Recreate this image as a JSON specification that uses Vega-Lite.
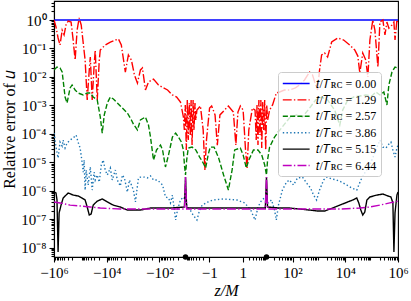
{
"$schema": "https://vega.github.io/schema/vega-lite/v6.json",
"width": 344, "height": 256,
"autosize": {"type": "none"},
"padding": {"left": 54, "top": 1, "right": 13, "bottom": 44},
"background": "white",
"config": {
 "view": {"stroke": "black", "strokeWidth": 1.1},
 "axis": {"domainColor": "black", "tickColor": "black", "labelColor": "black", "titleColor": "black", "labelFont": "Liberation Serif", "titleFont": "Liberation Serif", "labelFontSize": 15, "titleFontSize": 16, "titleFontWeight": "normal", "grid": false, "tickSize": 5, "tickWidth": 1.1, "domainWidth": 1.1}
},
"datasets": {
 "curves": [
  {"t":"0.00","z":-1e6,"err":1},{"t":"0.00","z":1e6,"err":1},
  {"t":"1.29","z":-1e6,"err":1.0},{"t":"1.29","z":-8.4e5,"err":0.57},{"t":"1.29","z":-7.0e5,"err":0.233},{"t":"1.29","z":-5.9e5,"err":0.132},{"t":"1.29","z":-4.9e5,"err":0.44},{"t":"1.29","z":-4.15e5,"err":0.30},{"t":"1.29","z":-3.5e5,"err":0.67},{"t":"1.29","z":-2.9e5,"err":0.92},{"t":"1.29","z":-2.25e5,"err":0.85},{"t":"1.29","z":-1.88e5,"err":0.198},{"t":"1.29","z":-1.58e5,"err":0.039},{"t":"1.29","z":-1.33e5,"err":0.44},{"t":"1.29","z":-1.11e5,"err":1.18},{"t":"1.29","z":-9.3e4,"err":0.67},{"t":"1.29","z":-7.8e4,"err":0.155},{"t":"1.29","z":-6.6e4,"err":0.039},{"t":"1.29","z":-5.5e4,"err":0.00154},{"t":"1.29","z":-4.6e4,"err":0.0175},{"t":"1.29","z":-4.2e4,"err":0.050},{"t":"1.29","z":-3.56e4,"err":0.00154},{"t":"1.29","z":-3.0e4,"err":0.026},{"t":"1.29","z":-2.73e4,"err":0.088},{"t":"1.29","z":-2.29e4,"err":0.00154},{"t":"1.29","z":-1.92e4,"err":0.039},{"t":"1.29","z":-1.76e4,"err":0.088},{"t":"1.29","z":-1.14e4,"err":0.132},{"t":"1.29","z":-7.3e3,"err":0.168},{"t":"1.29","z":-4.7e3,"err":0.198},{"t":"1.29","z":-3.6e3,"err":0.215},{"t":"1.29","z":-2.8e3,"err":0.132},{"t":"1.29","z":-1.97e3,"err":0.0148},{"t":"1.29","z":-1.51e3,"err":0.059},{"t":"1.29","z":-1.16e3,"err":0.039},{"t":"1.29","z":-890,"err":0.0116},{"t":"1.29","z":-686,"err":0.0061},{"t":"1.29","z":-527,"err":0.0175},{"t":"1.29","z":-442,"err":0.0205},{"t":"1.29","z":-340,"err":0.00346},{"t":"1.29","z":-261,"err":0.0066},{"t":"1.29","z":-168,"err":0.0084},{"t":"1.29","z":-109,"err":0.0052},{"t":"1.29","z":-70,"err":0.0041},{"t":"1.29","z":-49,"err":0.00346},{"t":"1.29","z":-32,"err":0.00231},{"t":"1.29","z":-22,"err":0.00196},{"t":"1.29","z":-15.7,"err":0.00131},{"t":"1.29","z":-12.1,"err":3.9e-4},{"t":"1.29","z":-11.1,"err":1.36e-4},{"t":"1.29","z":-10.2,"err":1.03e-3},{"t":"1.29","z":-9.3,"err":2.7e-5},{"t":"1.29","z":-8.5,"err":1.54e-3},{"t":"1.29","z":-7.8,"err":6.0e-5},{"t":"1.29","z":-7.1,"err":1.21e-3},{"t":"1.29","z":-6.5,"err":9.0e-5},{"t":"1.29","z":-6.0,"err":1.54e-3},{"t":"1.29","z":-5.5,"err":4.0e-5},{"t":"1.29","z":-5.0,"err":1.54e-3},{"t":"1.29","z":-4.6,"err":1.36e-4},{"t":"1.29","z":-4.2,"err":1.21e-3},{"t":"1.29","z":-3.9,"err":3.05e-4},{"t":"1.29","z":-3.5,"err":6.8e-4},{"t":"1.29","z":-2.5,"err":9.5e-4},{"t":"1.29","z":-1.9,"err":1.36e-4},{"t":"1.29","z":-1.6,"err":5.3e-6},{"t":"1.29","z":-1.35,"err":6.0e-5},{"t":"1.29","z":-0.96,"err":8.0e-4},{"t":"1.29","z":-0.75,"err":9.5e-4},{"t":"1.29","z":-0.48,"err":4.6e-4},{"t":"1.29","z":-0.34,"err":4.0e-5},{"t":"1.29","z":-0.21,"err":4.6e-4},{"t":"1.29","z":0.07,"err":9.5e-4},{"t":"1.29","z":0.27,"err":5.8e-4},{"t":"1.29","z":0.41,"err":4.0e-5},{"t":"1.29","z":0.55,"err":5.8e-4},{"t":"1.29","z":0.75,"err":9.5e-4},{"t":"1.29","z":1.04,"err":6.8e-4},{"t":"1.29","z":1.35,"err":2.7e-5},{"t":"1.29","z":1.6,"err":6.3e-6},{"t":"1.29","z":1.9,"err":1.36e-4},{"t":"1.29","z":2.7,"err":8.0e-4},{"t":"1.29","z":3.5,"err":6.8e-4},{"t":"1.29","z":3.9,"err":6.0e-5},{"t":"1.29","z":4.2,"err":1.03e-3},{"t":"1.29","z":4.6,"err":4.0e-5},{"t":"1.29","z":5.0,"err":1.54e-3},{"t":"1.29","z":5.5,"err":9.0e-5},{"t":"1.29","z":6.0,"err":1.54e-3},{"t":"1.29","z":6.5,"err":3.15e-5},{"t":"1.29","z":7.1,"err":1.31e-3},{"t":"1.29","z":7.8,"err":1.36e-4},{"t":"1.29","z":8.5,"err":1.54e-3},{"t":"1.29","z":9.3,"err":2.7e-5},{"t":"1.29","z":10.2,"err":1.03e-3},{"t":"1.29","z":11.1,"err":3.05e-4},{"t":"1.29","z":13.2,"err":6.8e-4},{"t":"1.29","z":17.2,"err":1.03e-3},{"t":"1.29","z":24,"err":0.00271},{"t":"1.29","z":32,"err":0.00294},{"t":"1.29","z":49,"err":0.00346},{"t":"1.29","z":76,"err":0.00346},{"t":"1.29","z":129,"err":0.0041},{"t":"1.29","z":184,"err":0.0052},{"t":"1.29","z":285,"err":0.0078},{"t":"1.29","z":442,"err":0.0148},{"t":"1.29","z":575,"err":0.0116},{"t":"1.29","z":750,"err":0.0052},{"t":"1.29","z":890,"err":0.00346},{"t":"1.29","z":1060,"err":0.0175},{"t":"1.29","z":1270,"err":0.059},{"t":"1.29","z":1650,"err":0.069},{"t":"1.29","z":2140,"err":0.050},{"t":"1.29","z":3050,"err":0.168},{"t":"1.29","z":5200,"err":0.233},{"t":"1.29","z":8700,"err":0.198},{"t":"1.29","z":1.48e4,"err":0.132},{"t":"1.29","z":2.29e4,"err":0.088},{"t":"1.29","z":3.0e4,"err":0.054},{"t":"1.29","z":3.56e4,"err":0.0137},{"t":"1.29","z":4.6e4,"err":0.069},{"t":"1.29","z":6.0e4,"err":0.039},{"t":"1.29","z":7.2e4,"err":0.0099},{"t":"1.29","z":8.6e4,"err":0.198},{"t":"1.29","z":1.11e5,"err":1.0},{"t":"1.29","z":1.33e5,"err":0.44},{"t":"1.29","z":1.73e5,"err":0.0222},{"t":"1.29","z":2.06e5,"err":0.85},{"t":"1.29","z":2.67e5,"err":1.0},{"t":"1.29","z":3.2e5,"err":0.30},{"t":"1.29","z":3.8e5,"err":0.85},{"t":"1.29","z":4.5e5,"err":0.52},{"t":"1.29","z":5.9e5,"err":0.67},{"t":"1.29","z":7.0e5,"err":0.85},{"t":"1.29","z":7.7e5,"err":0.198},{"t":"1.29","z":9.1e5,"err":1.0},{"t":"1.29","z":1e6,"err":0.85},
  {"t":"2.57","z":-1e6,"err":0.0175},{"t":"2.57","z":-7.7e5,"err":0.0222},{"t":"2.57","z":-5.9e5,"err":0.0205},{"t":"2.57","z":-4.9e5,"err":0.0148},{"t":"2.57","z":-3.8e5,"err":0.00196},{"t":"2.57","z":-3.2e5,"err":0.00121},{"t":"2.57","z":-2.45e5,"err":0.0041},{"t":"2.57","z":-2.06e5,"err":0.0052},{"t":"2.57","z":-1.58e5,"err":0.00346},{"t":"2.57","z":-1.22e5,"err":0.00271},{"t":"2.57","z":-7.8e4,"err":0.00231},{"t":"2.57","z":-5.5e4,"err":0.00271},{"t":"2.57","z":-4.2e4,"err":0.00271},{"t":"2.57","z":-3.26e4,"err":0.00196},{"t":"2.57","z":-2.29e4,"err":0.00154},{"t":"2.57","z":-1.76e4,"err":3.9e-4},{"t":"2.57","z":-1.48e4,"err":1.06e-4},{"t":"2.57","z":-1.24e4,"err":4.6e-4},{"t":"2.57","z":-9.5e3,"err":1.21e-3},{"t":"2.57","z":-7.3e3,"err":0.00196},{"t":"2.57","z":-5.6e3,"err":0.00167},{"t":"2.57","z":-3.97e3,"err":1.21e-3},{"t":"2.57","z":-2.55e3,"err":8.0e-4},{"t":"2.57","z":-1.65e3,"err":5.4e-4},{"t":"2.57","z":-1.16e3,"err":3.05e-4},{"t":"2.57","z":-975,"err":2.2e-4},{"t":"2.57","z":-686,"err":1.36e-4},{"t":"2.57","z":-527,"err":3.05e-4},{"t":"2.57","z":-340,"err":3.9e-4},{"t":"2.57","z":-261,"err":2.03e-4},{"t":"2.57","z":-219,"err":7.7e-5},{"t":"2.57","z":-168,"err":1.19e-5},{"t":"2.57","z":-129,"err":2.7e-5},{"t":"2.57","z":-91,"err":4.0e-5},{"t":"2.57","z":-76,"err":2.7e-5},{"t":"2.57","z":-59,"err":6.8e-6},{"t":"2.57","z":-45,"err":1.8e-5},{"t":"2.57","z":-32,"err":7.7e-5},{"t":"2.57","z":-24,"err":1.06e-4},{"t":"2.57","z":-18.8,"err":7.7e-5},{"t":"2.57","z":-14.4,"err":5.1e-5},{"t":"2.57","z":-12.1,"err":2.7e-5},{"t":"2.57","z":-11,"err":8.0e-6},{"t":"2.57","z":-10,"err":3.55e-6},{"t":"2.57","z":-9,"err":1.19e-5},{"t":"2.57","z":-7.8,"err":3.15e-5},{"t":"2.57","z":-5.5,"err":3.4e-5},{"t":"2.57","z":-3.9,"err":2.7e-5},{"t":"2.57","z":-2.7,"err":1.52e-5},{"t":"2.57","z":-1.9,"err":9.4e-6},{"t":"2.57","z":-1.47,"err":6.3e-6},{"t":"2.57","z":-1.13,"err":1.8e-5},{"t":"2.57","z":-0.89,"err":3.4e-5},{"t":"2.57","z":-0.55,"err":3.4e-5},{"t":"2.57","z":-0.27,"err":1.41e-5},{"t":"2.57","z":-0.07,"err":3.55e-6},{"t":"2.57","z":0.07,"err":1.05e-6},{"t":"2.57","z":0.21,"err":5.3e-6},{"t":"2.57","z":0.34,"err":2.7e-5},{"t":"2.57","z":0.75,"err":3.15e-5},{"t":"2.57","z":1.04,"err":1.8e-5},{"t":"2.57","z":1.47,"err":6.3e-6},{"t":"2.57","z":1.9,"err":1.19e-5},{"t":"2.57","z":3.0,"err":2.7e-5},{"t":"2.57","z":4.6,"err":2.7e-5},{"t":"2.57","z":6.5,"err":1.8e-5},{"t":"2.57","z":8.5,"err":8.0e-6},{"t":"2.57","z":10,"err":3.55e-6},{"t":"2.57","z":11,"err":1.19e-5},{"t":"2.57","z":13.2,"err":3.4e-5},{"t":"2.57","z":20.5,"err":7.7e-5},{"t":"2.57","z":26.7,"err":1.06e-4},{"t":"2.57","z":38,"err":1.6e-4},{"t":"2.57","z":76,"err":3.6e-4},{"t":"2.57","z":141,"err":4.6e-4},{"t":"2.57","z":239,"err":3.9e-4},{"t":"2.57","z":442,"err":8.0e-4},{"t":"2.57","z":750,"err":1.54e-3},{"t":"2.57","z":1270,"err":1.96e-3},{"t":"2.57","z":2140,"err":1.54e-3},{"t":"2.57","z":3970,"err":6.8e-4},{"t":"2.57","z":6200,"err":2.03e-4},{"t":"2.57","z":8000,"err":6.8e-4},{"t":"2.57","z":1.24e4,"err":1.54e-3},{"t":"2.57","z":2.1e4,"err":1.96e-3},{"t":"2.57","z":3.56e4,"err":2.13e-3},{"t":"2.57","z":6.0e4,"err":2.31e-3},{"t":"2.57","z":1.02e5,"err":2.13e-3},{"t":"2.57","z":1.45e5,"err":2.94e-3},{"t":"2.57","z":2.06e5,"err":2.31e-3},{"t":"2.57","z":2.9e5,"err":2.94e-3},{"t":"2.57","z":3.8e5,"err":1.03e-3},{"t":"2.57","z":4.5e5,"err":0.0052},{"t":"2.57","z":5.9e5,"err":0.0148},{"t":"2.57","z":7.7e5,"err":0.0222},{"t":"2.57","z":1e6,"err":0.0205},
  {"t":"3.86","z":-1e6,"err":1.06e-4},{"t":"3.86","z":-8.4e5,"err":3.4e-5},{"t":"3.86","z":-7.0e5,"err":1.41e-5},{"t":"3.86","z":-5.9e5,"err":5.1e-5},{"t":"3.86","z":-4.9e5,"err":3.7e-5},{"t":"3.86","z":-4.5e5,"err":6.0e-5},{"t":"3.86","z":-3.8e5,"err":3.15e-5},{"t":"3.86","z":-3.2e5,"err":4.7e-5},{"t":"3.86","z":-2.45e5,"err":6.0e-5},{"t":"3.86","z":-1.88e5,"err":7.1e-5},{"t":"3.86","z":-1.45e5,"err":9.0e-5},{"t":"3.86","z":-1.22e5,"err":5.1e-5},{"t":"3.86","z":-1.02e5,"err":3.15e-5},{"t":"3.86","z":-8.6e4,"err":1.02e-5},{"t":"3.86","z":-7.8e4,"err":4.5e-6},{"t":"3.86","z":-7.2e4,"err":1.19e-5},{"t":"3.86","z":-6.6e4,"err":1.05e-6},{"t":"3.86","z":-6.0e4,"err":5.3e-6},{"t":"3.86","z":-5.05e4,"err":1.58e-6},{"t":"3.86","z":-4.2e4,"err":6.8e-6},{"t":"3.86","z":-3.56e4,"err":1.05e-6},{"t":"3.86","z":-3.0e4,"err":4.5e-6},{"t":"3.86","z":-2.73e4,"err":2.37e-6},{"t":"3.86","z":-2.29e4,"err":3.55e-6},{"t":"3.86","z":-1.92e4,"err":2.0e-6},{"t":"3.86","z":-1.61e4,"err":8.0e-6},{"t":"3.86","z":-1.36e4,"err":1.19e-5},{"t":"3.86","z":-1.14e4,"err":5.3e-6},{"t":"3.86","z":-9.5e3,"err":3.55e-6},{"t":"3.86","z":-7.3e3,"err":6.3e-6},{"t":"3.86","z":-6.2e3,"err":2.37e-6},{"t":"3.86","z":-4.7e3,"err":5.3e-6},{"t":"3.86","z":-3.97e3,"err":2.37e-6},{"t":"3.86","z":-3.05e3,"err":1.46e-6},{"t":"3.86","z":-2.55e3,"err":3.55e-6},{"t":"3.86","z":-2.14e3,"err":2.8e-6},{"t":"3.86","z":-1.65e3,"err":8.95e-7},{"t":"3.86","z":-1.38e3,"err":2.37e-6},{"t":"3.86","z":-1.16e3,"err":1.58e-6},{"t":"3.86","z":-975,"err":1.05e-6},{"t":"3.86","z":-817,"err":4.0e-7},{"t":"3.86","z":-628,"err":2.8e-6},{"t":"3.86","z":-527,"err":3.0e-6},{"t":"3.86","z":-371,"err":3.0e-6},{"t":"3.86","z":-285,"err":2.8e-6},{"t":"3.86","z":-219,"err":3.3e-6},{"t":"3.86","z":-168,"err":2.37e-6},{"t":"3.86","z":-119,"err":2.37e-6},{"t":"3.86","z":-91,"err":1.86e-6},{"t":"3.86","z":-76,"err":1.58e-6},{"t":"3.86","z":-59,"err":6.0e-7},{"t":"3.86","z":-45,"err":5.5e-7},{"t":"3.86","z":-38,"err":3.7e-7},{"t":"3.86","z":-32,"err":7.0e-7},{"t":"3.86","z":-24,"err":9.3e-8},{"t":"3.86","z":-20.5,"err":2.08e-7},{"t":"3.86","z":-15.7,"err":4.7e-7},{"t":"3.86","z":-12.1,"err":6.0e-7},{"t":"3.86","z":-10.2,"err":4.7e-7},{"t":"3.86","z":-8.5,"err":2.66e-7},{"t":"3.86","z":-6.5,"err":2.08e-7},{"t":"3.86","z":-5.0,"err":1.39e-7},{"t":"3.86","z":-3.5,"err":9.3e-8},{"t":"3.86","z":-2.7,"err":2.08e-7},{"t":"3.86","z":-2.1,"err":3.1e-7},{"t":"3.86","z":-1.13,"err":4.0e-7},{"t":"3.86","z":-0.62,"err":4.7e-7},{"t":"3.86","z":-0.07,"err":5.1e-7},{"t":"3.86","z":0.48,"err":4.7e-7},{"t":"3.86","z":1.24,"err":3.7e-7},{"t":"3.86","z":2.3,"err":2.08e-7},{"t":"3.86","z":3.5,"err":9.3e-8},{"t":"3.86","z":4.6,"err":2.66e-7},{"t":"3.86","z":6.5,"err":4.7e-7},{"t":"3.86","z":8.5,"err":5.5e-7},{"t":"3.86","z":11.1,"err":3.7e-7},{"t":"3.86","z":15.7,"err":4.7e-7},{"t":"3.86","z":20.5,"err":2.08e-7},{"t":"3.86","z":24,"err":9.3e-8},{"t":"3.86","z":29,"err":3.1e-7},{"t":"3.86","z":41,"err":1.05e-6},{"t":"3.86","z":59,"err":2.0e-6},{"t":"3.86","z":76,"err":2.37e-6},{"t":"3.86","z":109,"err":1.58e-6},{"t":"3.86","z":154,"err":2.8e-6},{"t":"3.86","z":239,"err":3.0e-6},{"t":"3.86","z":340,"err":1.86e-6},{"t":"3.86","z":482,"err":1.24e-6},{"t":"3.86","z":628,"err":7.0e-7},{"t":"3.86","z":817,"err":4.7e-7},{"t":"3.86","z":1060,"err":1.05e-6},{"t":"3.86","z":1510,"err":2.37e-6},{"t":"3.86","z":1970,"err":3.0e-6},{"t":"3.86","z":3050,"err":2.6e-6},{"t":"3.86","z":4700,"err":2.37e-6},{"t":"3.86","z":7300,"err":2.0e-6},{"t":"3.86","z":1.14e4,"err":1.58e-6},{"t":"3.86","z":1.76e4,"err":1.24e-6},{"t":"3.86","z":2.73e4,"err":1.05e-6},{"t":"3.86","z":3.9e4,"err":2.37e-6},{"t":"3.86","z":5.5e4,"err":4.2e-6},{"t":"3.86","z":8.6e4,"err":8.0e-6},{"t":"3.86","z":1.22e5,"err":1.8e-5},{"t":"3.86","z":1.73e5,"err":4.0e-5},{"t":"3.86","z":2.06e5,"err":6.0e-5},{"t":"3.86","z":2.67e5,"err":3.4e-5},{"t":"3.86","z":3.5e5,"err":3.15e-5},{"t":"3.86","z":4.15e5,"err":4.0e-5},{"t":"3.86","z":5.4e5,"err":5.1e-5},{"t":"3.86","z":6.4e5,"err":2.7e-5},{"t":"3.86","z":7.7e5,"err":1.52e-5},{"t":"3.86","z":9.1e5,"err":3.15e-5},{"t":"3.86","z":1e6,"err":4.0e-5},
  {"t":"5.15","z":-1e6,"err":8.95e-7},{"t":"5.15","z":-8.4e5,"err":8.3e-7},{"t":"5.15","z":-7.7e5,"err":4.7e-7},{"t":"5.15","z":-7.0e5,"err":6.95e-9},{"t":"5.15","z":-6.4e5,"err":1.64e-7},{"t":"5.15","z":-5.4e5,"err":3.1e-7},{"t":"5.15","z":-4.5e5,"err":5.5e-7},{"t":"5.15","z":-2.9e5,"err":8.3e-7},{"t":"5.15","z":-1.88e5,"err":7.0e-7},{"t":"5.15","z":-1.22e5,"err":6.5e-7},{"t":"5.15","z":-8.6e4,"err":5.5e-7},{"t":"5.15","z":-6.6e4,"err":4.7e-7},{"t":"5.15","z":-5.5e4,"err":2.66e-7},{"t":"5.15","z":-4.6e4,"err":1.39e-7},{"t":"5.15","z":-3.9e4,"err":1.51e-7},{"t":"5.15","z":-3.26e4,"err":3.1e-7},{"t":"5.15","z":-2.29e4,"err":4.3e-7},{"t":"5.15","z":-1.48e4,"err":5.1e-7},{"t":"5.15","z":-9.5e3,"err":4.0e-7},{"t":"5.15","z":-5.6e3,"err":3.1e-7},{"t":"5.15","z":-3.05e3,"err":2.66e-7},{"t":"5.15","z":-1.65e3,"err":2.08e-7},{"t":"5.15","z":-527,"err":2.08e-7},{"t":"5.15","z":-219,"err":2.45e-7},{"t":"5.15","z":-38,"err":2.45e-7},{"t":"5.15","z":-11,"err":2.66e-7},{"t":"5.15","z":-10,"err":3.0e-6},{"t":"5.15","z":-9,"err":2.45e-7},{"t":"5.15","z":0,"err":2.45e-7},{"t":"5.15","z":9,"err":2.45e-7},{"t":"5.15","z":10,"err":3.0e-6},{"t":"5.15","z":11,"err":2.66e-7},{"t":"5.15","z":32,"err":2.45e-7},{"t":"5.15","z":76,"err":2.45e-7},{"t":"5.15","z":184,"err":2.26e-7},{"t":"5.15","z":442,"err":2.08e-7},{"t":"5.15","z":890,"err":1.92e-7},{"t":"5.15","z":1650,"err":1.92e-7},{"t":"5.15","z":3300,"err":2.45e-7},{"t":"5.15","z":6200,"err":3.1e-7},{"t":"5.15","z":1.24e4,"err":4.0e-7},{"t":"5.15","z":1.92e4,"err":4.7e-7},{"t":"5.15","z":2.73e4,"err":5.5e-7},{"t":"5.15","z":3.26e4,"err":3.7e-7},{"t":"5.15","z":3.9e4,"err":2.08e-7},{"t":"5.15","z":4.6e4,"err":1.39e-7},{"t":"5.15","z":5.5e4,"err":1.77e-7},{"t":"5.15","z":6.6e4,"err":4.7e-7},{"t":"5.15","z":8.6e4,"err":6.0e-7},{"t":"5.15","z":1.58e5,"err":7.0e-7},{"t":"5.15","z":2.67e5,"err":7.6e-7},{"t":"5.15","z":4.15e5,"err":6.5e-7},{"t":"5.15","z":5.4e5,"err":6.0e-7},{"t":"5.15","z":6.4e5,"err":3.7e-7},{"t":"5.15","z":7.0e5,"err":6.95e-9},{"t":"5.15","z":7.7e5,"err":1.64e-7},{"t":"5.15","z":9.1e5,"err":7.0e-7},{"t":"5.15","z":1e6,"err":8.95e-7},
  {"t":"6.44","z":-1e6,"err":4.0e-7},{"t":"6.44","z":-5.9e5,"err":3.7e-7},{"t":"6.44","z":-2.45e5,"err":3.1e-7},{"t":"6.44","z":-1.02e5,"err":2.9e-7},{"t":"6.44","z":-4.2e4,"err":2.66e-7},{"t":"6.44","z":-1.76e4,"err":2.45e-7},{"t":"6.44","z":-3.05e3,"err":2.26e-7},{"t":"6.44","z":-219,"err":2.26e-7},{"t":"6.44","z":-11,"err":2.26e-7},{"t":"6.44","z":-10,"err":3.0e-6},{"t":"6.44","z":-9,"err":2.26e-7},{"t":"6.44","z":9,"err":2.26e-7},{"t":"6.44","z":10,"err":3.0e-6},{"t":"6.44","z":11,"err":2.26e-7},{"t":"6.44","z":184,"err":2.26e-7},{"t":"6.44","z":6200,"err":2.26e-7},{"t":"6.44","z":3.56e4,"err":2.45e-7},{"t":"6.44","z":8.6e4,"err":2.66e-7},{"t":"6.44","z":2.06e5,"err":3.1e-7},{"t":"6.44","z":4.9e5,"err":3.7e-7},{"t":"6.44","z":1e6,"err":4.3e-7}
 ],
 "dots": [{"z": -10, "err": 4.65e-9}, {"z": 10, "err": 4.65e-9}]
},
"layer": [
 {
  "data": {"name": "curves"},
  "mark": {"type": "line", "strokeWidth": 1.39, "clip": true},
  "encoding": {
   "x": {"field": "z", "type": "quantitative",
     "scale": {"type": "symlog", "constant": 0.3, "domain": [-1000000, 1000000], "nice": false, "zero": false},
     "axis": {"orient": "bottom", "values": [-1000000, -10000, -100, -1, 1, 100, 10000, 1000000], "labelExpr": "(datum.value < 0 ? '−' : '') + (abs(datum.value) == 1 ? '1' : '10' + (abs(datum.value) == 100 ? '²' : (abs(datum.value) == 10000 ? '⁴' : '⁶')))", "labelFlush": false, "labelOverlap": false, "labelPadding": 3, "title": "z/M", "titleFontStyle": "italic", "titlePadding": 2}},
   "y": {"field": "err", "type": "quantitative",
     "scale": {"type": "log", "domain": [4.65e-9, 4.66], "nice": false},
     "axis": {"orient": "left", "values": [1e-8, 1e-7, 1e-6, 1e-5, 1e-4, 1e-3, 1e-2, 1e-1, 1], "labelExpr": "'10' + (datum.value > 0.5 ? '⁰' : '⁻' + substring('⁰¹²³⁴⁵⁶⁷⁸⁹', round(-log(datum.value)/LN10), round(-log(datum.value)/LN10) + 1))", "labelOverlap": false, "labelFlush": false, "labelPadding": 3, "title": "Relative error of 𝑢", "titlePadding": 3}},
   "color": {"field": "t", "type": "nominal",
     "scale": {"domain": ["0.00", "1.29", "2.57", "3.86", "5.15", "6.44"], "range": ["#0000ff", "#ff0000", "#008000", "#1f77b4", "#000000", "#bf00bf"]},
     "legend": {"orient": "none", "legendX": 224, "legendY": 71, "title": null, "symbolType": "M-1,0H3", "symbolSize": 180, "symbolStrokeWidth": 1.39, "labelFont": "Liberation Serif", "labelFontSize": 12, "labelColor": "black", "labelExpr": "'𝑡/𝑇ʀᴄ = ' + datum.label", "rowPadding": 2.4, "padding": 4, "fillColor": "rgba(255,255,255,0.8)", "strokeColor": "#cccccc", "cornerRadius": 3, "labelOffset": 18.5}},
   "strokeDash": {"field": "t", "type": "nominal",
     "scale": {"domain": ["0.00", "1.29", "2.57", "3.86", "5.15", "6.44"], "range": [[1, 0], [8.9, 2.2, 1.4, 2.2], [5.1, 2.2], [1.4, 2.3], [1, 0], [8.9, 2.2, 1.4, 2.2]]},
     "legend": {"orient": "none", "legendX": 224, "legendY": 71, "title": null}}
  }
 },
 {
  "data": {"name": "dots"},
  "mark": {"type": "circle", "color": "black", "size": 30, "opacity": 1, "clip": false},
  "encoding": {
   "x": {"field": "z", "type": "quantitative", "axis": null},
   "y": {"field": "err", "type": "quantitative", "axis": null}
  }
 },
 {
  "data": {"name": "dots"},
  "mark": {"type": "point", "opacity": 0},
  "encoding": {
   "x": {"field": "z", "type": "quantitative", "axis": {"orient": "bottom", "labels": false, "domain": false, "title": null, "tickSize": 3, "values": [-900000,-800000,-700000,-600000,-500000,-400000,-300000,-200000,-90000,-80000,-70000,-60000,-50000,-40000,-30000,-20000,-9000,-8000,-7000,-6000,-5000,-4000,-3000,-2000,-900,-800,-700,-600,-500,-400,-300,-200,-90,-80,-70,-60,-50,-40,-30,-20,-9,-8,-7,-6,-5,-4,-3,-2,2,3,4,5,6,7,8,9,20,30,40,50,60,70,80,90,200,300,400,500,600,700,800,900,2000,3000,4000,5000,6000,7000,8000,9000,20000,30000,40000,50000,60000,70000,80000,90000,200000,300000,400000,500000,600000,700000,800000,900000]}},
   "y": {"field": "err", "type": "quantitative", "axis": {"orient": "left", "labels": false, "domain": false, "title": null, "tickSize": 3, "values": [5e-9,6e-9,7e-9,8e-9,9e-9,2e-8,3e-8,4e-8,5e-8,6e-8,7e-8,8e-8,9e-8,2e-7,3e-7,4e-7,5e-7,6e-7,7e-7,8e-7,9e-7,2e-6,3e-6,4e-6,5e-6,6e-6,7e-6,8e-6,9e-6,2e-5,3e-5,4e-5,5e-5,6e-5,7e-5,8e-5,9e-5,2e-4,3e-4,4e-4,5e-4,6e-4,7e-4,8e-4,9e-4,0.002,0.003,0.004,0.005,0.006,0.007,0.008,0.009,0.02,0.03,0.04,0.05,0.06,0.07,0.08,0.09,0.2,0.3,0.4,0.5,0.6,0.7,0.8,0.9,2,3,4]}}
  }
 }
],
"resolve": {"axis": {"x": "independent", "y": "independent"}}
}
